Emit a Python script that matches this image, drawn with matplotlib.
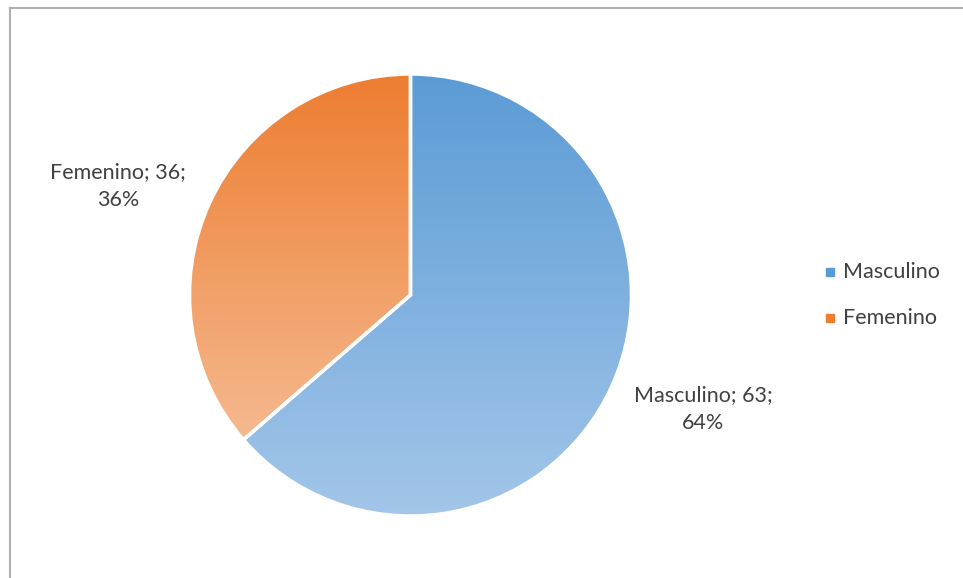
import numpy as np
import matplotlib.pyplot as plt
from matplotlib.colors import LinearSegmentedColormap

# data
labels = ['Masculino', 'Femenino']
values = [63, 36]
pcts = ['64%', '36%']
top_colors = ['#5B9BD5', '#ED7D31']
bottom_colors = ['#A3C6E9', '#F5B98F']

W, H = 963, 578
fig = plt.figure(figsize=(W / 100, H / 100), dpi=100)
plt.rcParams['font.family'] = ['Lato', 'DejaVu Sans']

# pie centre (410.5, 295) px, radius 221 px
cx, cy, R = 410.5, 295, 221
ax = fig.add_axes([(cx - R) / W, (H - cy - R) / H, 2 * R / W, 2 * R / H])
wedges, _ = ax.pie(values, startangle=90, counterclock=False, radius=1,
                   wedgeprops=dict(edgecolor='white', linewidth=2.5))
ax.set_aspect('equal')
ax.axis('off')

# vertical gradient fill per wedge
grad = np.linspace(0, 1, 256).reshape(-1, 1)
for w, c0, c1 in zip(wedges, top_colors, bottom_colors):
    w.set_facecolor('none')
    ext = w.get_path().get_extents()
    cmap = LinearSegmentedColormap.from_list('g', [c0, c1])
    im = ax.imshow(grad, cmap=cmap, aspect='auto', origin='upper',
                   extent=[ext.x0, ext.x1, ext.y0, ext.y1], zorder=0.5)
    im.set_clip_path(w)
ax.set_xlim(-1, 1)
ax.set_ylim(-1, 1)

# data labels
txt_color = '#404040'
fs = 15.5
fig.text(703 / W, 1 - 409 / H, f'{labels[0]}; {values[0]};\n{pcts[0]}',
         ha='center', va='center', fontsize=fs, color=txt_color, linespacing=1.45)
fig.text(118 / W, 1 - 186 / H, f'{labels[1]}; {values[1]};\n{pcts[1]}',
         ha='center', va='center', fontsize=fs, color=txt_color, linespacing=1.45)

# legend
for i, (lab, c) in enumerate(zip(labels, top_colors)):
    y = 272 + i * 46
    fig.patches.append(plt.Rectangle((826 / W, 1 - (y + 4) / H), 8 / W, 8 / H,
                                     transform=fig.transFigure, color=c))
    fig.text(843 / W, 1 - y / H, lab, ha='left', va='center',
             fontsize=fs, color=txt_color)

# chart frame (only left and top edges visible)
fig.add_artist(plt.Line2D([9.5 / W, 9.5 / W], [0, 1 - 7.5 / H], color='#B0B0B0',
                          lw=1.5, transform=fig.transFigure))
fig.add_artist(plt.Line2D([9.5 / W, 1], [1 - 7.5 / H, 1 - 7.5 / H], color='#B0B0B0',
                          lw=1.5, transform=fig.transFigure))

fig.savefig('out.png', dpi=100)
